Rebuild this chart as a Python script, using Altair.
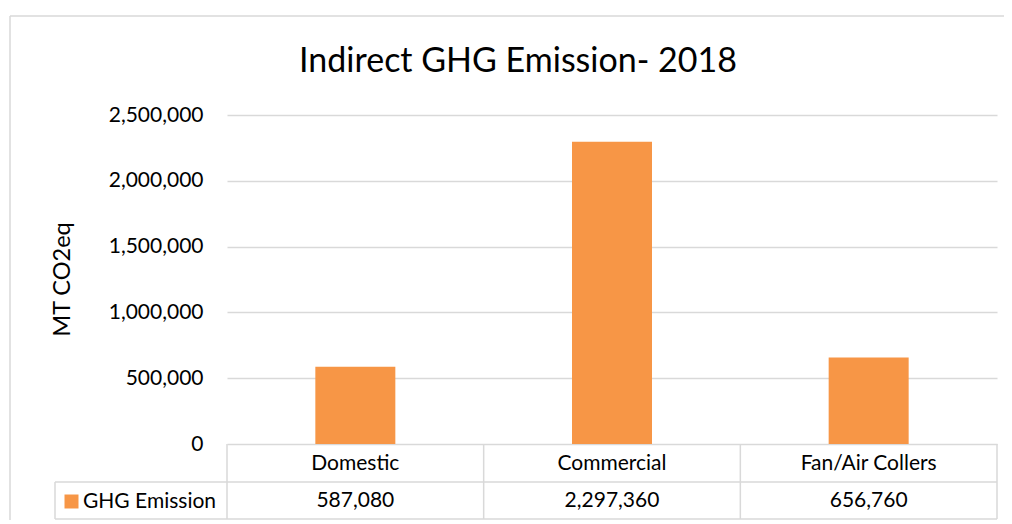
import altair as alt
import pandas as pd

categories = ["Domestic", "Commercial", "Fan/Air Collers"]
emissions = [587080, 2297360, 656760]
series_name = "GHG Emission"
y_ticks = [0, 500000, 1000000, 1500000, 2000000, 2500000]

df = pd.DataFrame({"cat": categories, "value": emissions, "series": [series_name] * 3})
one = pd.DataFrame({"d": [0]})

FONT = "Lato"
GRID = "#d9d9d9"
ORANGE = "#F79646"
W, H = 770, 329

xscale = alt.Scale(paddingInner=0, paddingOuter=0)


def xaxis():
    return alt.Axis(title=None, domain=False, ticks=False, tickSize=0,
                    labelFontSize=21, labelPadding=19, labelBaseline="middle",
                    labelAlign="center", labelColor="#000000", labelAngle=0,
                    grid=False)


bars = alt.Chart(df).mark_bar(size=80).encode(
    x=alt.X("cat:N", sort=categories, scale=xscale, axis=xaxis()),
    y=alt.Y("value:Q", scale=alt.Scale(domain=[0, 2500000], nice=False),
            axis=alt.Axis(values=y_ticks, format=",.0f", grid=True, gridColor=GRID,
                          gridWidth=1.5, domain=False, ticks=False, tickSize=0,
                          labelFontSize=21, labelPadding=24, labelColor="#000000",
                          title="MT CO2eq", titleFontSize=23.5, titleFontWeight="normal",
                          titleColor="#000000", titleX=-165, titleY=164,
                          titleAlign="center", titleBaseline="middle", titleAngle=-90)),
    color=alt.Color("series:N", scale=alt.Scale(domain=[series_name], range=[ORANGE]),
                    legend=alt.Legend(title=None, orient="none", legendX=-166, legendY=376,
                                      symbolType="square", symbolSize=196,
                                      symbolStrokeWidth=0, symbolOpacity=1,
                                      labelFontSize=21, labelColor="#000000",
                                      labelOffset=1, padding=0)),
)

values_row = alt.Chart(df).mark_text(fontSize=21, color="#000000", baseline="middle",
                                     font=FONT).encode(
    x=alt.X("cat:N", sort=categories, scale=xscale, axis=xaxis()),
    y=alt.value(386),
    text=alt.Text("value:Q", format=","),
)

vlines = alt.Chart(df).mark_rule(color=GRID, strokeWidth=1.5).encode(
    x=alt.X("cat:N", sort=categories, scale=xscale, bandPosition=0, axis=xaxis()),
    y=alt.value(H),
    y2=alt.value(404),
)


def hrule(x1, x2, y):
    return alt.Chart(one).mark_rule(color=GRID, strokeWidth=1.5).encode(
        x=alt.value(x1), x2=alt.value(x2), y=alt.value(y))


def vrule(x, y1, y2):
    return alt.Chart(one).mark_rule(color=GRID, strokeWidth=1.5).encode(
        x=alt.value(x), y=alt.value(y1), y2=alt.value(y2))


decor = [
    vrule(W, H, 404),
    vrule(-172, 367, 404),
    hrule(-172, W, 367),
    hrule(-172, W, 404),
    hrule(-217, 790, -99),
    vrule(-217, -99, 420),
]

chart = alt.layer(*decor, vlines, bars, values_row).properties(
    width=W,
    height=H,
    autosize=alt.AutoSizeParams(type="none"),
    padding={"left": 219, "top": 107, "right": 7, "bottom": 76},
    title=alt.TitleParams("Indirect GHG Emission- 2018", fontSize=34, fontWeight="normal",
                          font=FONT, color="#000000", anchor="middle", frame="group",
                          baseline="alphabetic", offset=-91, dx=-94),
).configure(font=FONT).configure_view(strokeWidth=0)

chart.save("out.html", embed_options={"renderer": "svg", "actions": False})
